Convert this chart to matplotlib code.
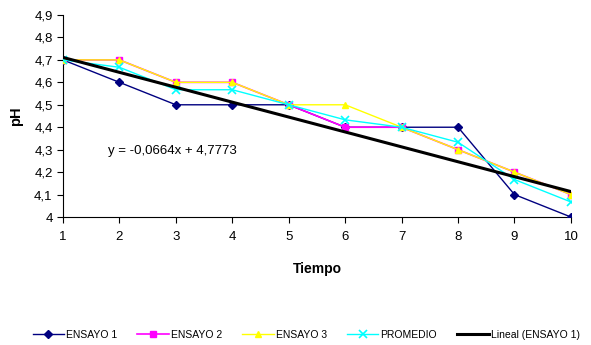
import matplotlib
matplotlib.use('Agg')
import matplotlib.pyplot as plt
import numpy as np

plt.rcParams['font.family'] = ['Liberation Sans', 'DejaVu Sans']

# datos
tiempo = [1, 2, 3, 4, 5, 6, 7, 8, 9, 10]
ensayo1 = [4.7, 4.6, 4.5, 4.5, 4.5, 4.4, 4.4, 4.4, 4.1, 4.0]
ensayo2 = [4.7, 4.7, 4.6, 4.6, 4.5, 4.4, 4.4, 4.3, 4.2, 4.1]
ensayo3 = [4.7, 4.7, 4.6, 4.6, 4.5, 4.5, 4.4, 4.3, 4.2, 4.1]
promedio = [4.7, 4.667, 4.567, 4.567, 4.5, 4.433, 4.4, 4.333, 4.167, 4.067]
pendiente, intercepto = -0.0664, 4.7773
y_ticks = [4.0, 4.1, 4.2, 4.3, 4.4, 4.5, 4.6, 4.7, 4.8, 4.9]
y_ticklabels = ['4', '4,1', '4,2', '4,3', '4,4', '4,5', '4,6', '4,7', '4,8', '4,9']

fig = plt.figure(figsize=(5.91, 3.45), dpi=100)
ax = fig.add_axes([0.1066, 0.371, 0.8594, 0.5855])

x = np.array(tiempo)
ax.plot(x, ensayo1, color='#000080', marker='D', ms=4, lw=1, label='ENSAYO 1', zorder=3)
ax.plot(x, ensayo2, color='#FF00FF', marker='s', ms=5, lw=1.2, label='ENSAYO 2', zorder=3)
ax.plot(x, ensayo3, color='#FFFF00', marker='^', ms=5, lw=1, label='ENSAYO 3', zorder=3)
ax.plot(x, promedio, color='#00FFFF', marker='x', ms=6, mew=1.2, lw=1, label='PROMEDIO', zorder=3)
ax.plot(x, pendiente * x + intercepto, color='black', lw=2.2, label='Lineal (ENSAYO 1)', zorder=4)

ax.text(1.8, 4.295, 'y = -0,0664x + 4,7773', fontsize=9.5, va='center', ha='left')

ax.set_xlim(1, 10)
ax.set_ylim(4.0, 4.9)
ax.set_xticks(tiempo)
ax.set_yticks(y_ticks)
ax.set_yticklabels(y_ticklabels)
ax.tick_params(labelsize=9.5, direction='out', length=4, width=0.8)
ax.tick_params(axis='x', pad=6)
for s in ['top', 'right']:
    ax.spines[s].set_visible(False)

ax.set_xlabel('Tiempo', fontsize=10, fontweight='bold', labelpad=14)
ax.set_ylabel('pH', fontsize=10.5, fontweight='bold', labelpad=8)

fig.legend(loc='center', bbox_to_anchor=(0.518, 0.029), ncol=5, frameon=False,
           fontsize=7.5, handlelength=3, columnspacing=1.95, handletextpad=0.2)

fig.savefig('out.png', dpi=100)
